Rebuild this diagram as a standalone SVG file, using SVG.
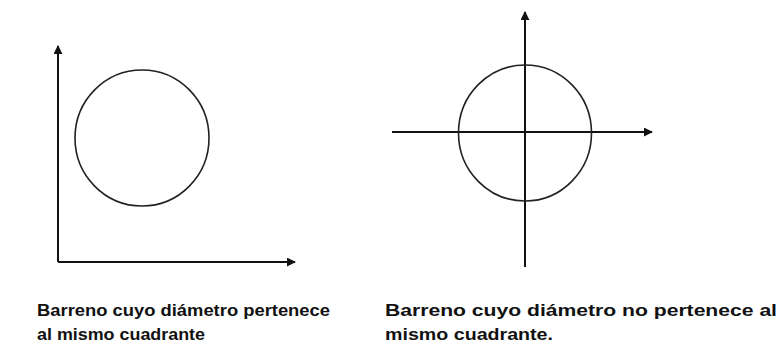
<svg xmlns="http://www.w3.org/2000/svg" width="780" height="349" viewBox="0 0 780 349">
<defs>
<marker id="ah" viewBox="0 0 10 10" refX="9" refY="5" markerWidth="9" markerHeight="9" markerUnits="userSpaceOnUse" orient="auto">
<path d="M0,0 L10,5 L0,10 Z" fill="#111"/>
</marker>
<style>
.ax{stroke:#111;stroke-width:2;fill:none}
.c{stroke:#222;stroke-width:1.6;fill:none}
.t{font-family:"Comic Sans MS","Liberation Sans",sans-serif;font-weight:bold;font-size:16px;fill:#111}
</style>
</defs>
<rect width="780" height="349" fill="#fff"/>
<g id="connectors">
<path class="ax" d="M58,262 V46" marker-end="url(#ah)"/>
<path class="ax" d="M58,262 H295" marker-end="url(#ah)"/>
<path class="ax" d="M525,267 V12" marker-end="url(#ah)"/>
<path class="ax" d="M392,132 H652" marker-end="url(#ah)"/>
</g>
<g id="circle-left"><ellipse class="c" cx="142" cy="138" rx="67" ry="68"/></g>
<g id="circle-right"><ellipse class="c" cx="525" cy="133" rx="66.5" ry="68"/></g>
<g id="label-left">
<text class="t" x="37" y="316" textLength="293" lengthAdjust="spacingAndGlyphs">Barreno cuyo diámetro pertenece</text>
<text class="t" x="37" y="340" textLength="168" lengthAdjust="spacingAndGlyphs">al mismo cuadrante</text>
</g>
<g id="label-right">
<text class="t" x="385" y="316" textLength="392" lengthAdjust="spacingAndGlyphs">Barreno cuyo diámetro no pertenece al</text>
<text class="t" x="385" y="340" textLength="168" lengthAdjust="spacingAndGlyphs">mismo cuadrante.</text>
</g>
</svg>
